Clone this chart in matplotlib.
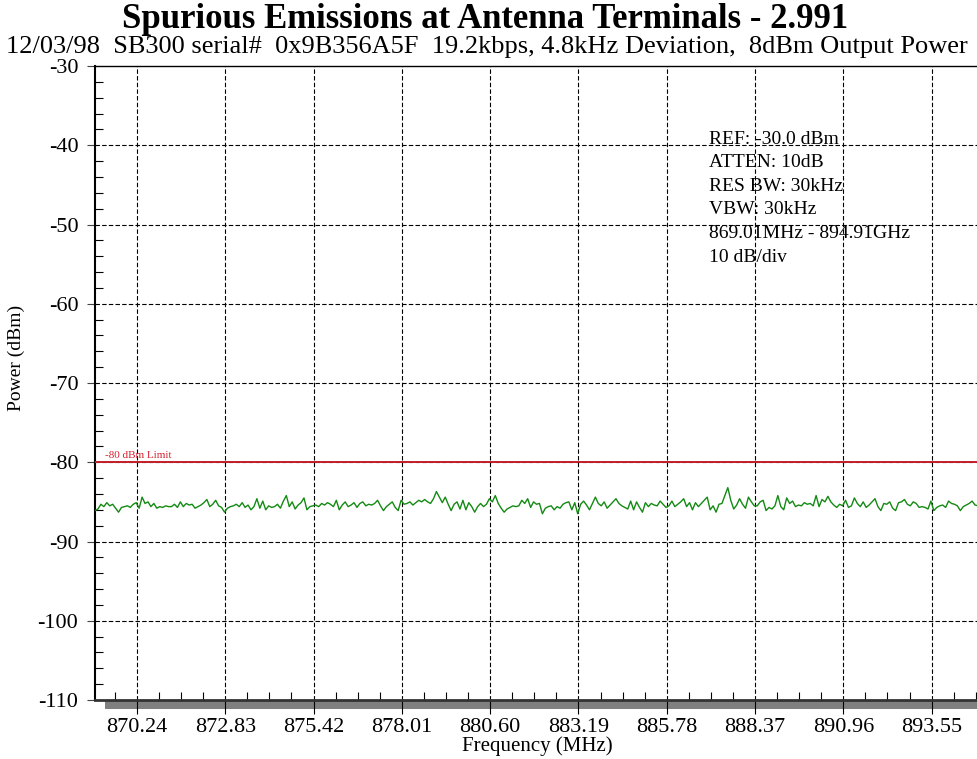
import numpy as np
import matplotlib
matplotlib.use("Agg")
import matplotlib.pyplot as plt
from matplotlib.patches import Rectangle
from matplotlib.ticker import FixedLocator, NullFormatter

plt.rcParams['font.family'] = ['Liberation Serif', 'DejaVu Serif']

title = "Spurious Emissions at Antenna Terminals - 2.991"
subtitle = "12/03/98  SB300 serial#  0x9B356A5F  19.2kbps, 4.8kHz Deviation,  8dBm Output Power"

start_mhz = 869.01
stop_mhz = 894.91
limit_dbm = -80
limit_label = "-80 dBm Limit"
xtick_vals = [870.24, 872.83, 875.42, 878.01, 880.60, 883.19, 885.78, 888.37, 890.96, 893.55]
ytick_vals = [-30, -40, -50, -60, -70, -80, -90, -100, -110]
info_lines = ["REF: -30.0 dBm", "ATTEN: 10dB", "RES BW: 30kHz", "VBW: 30kHz",
              "869.01MHz - 894.91GHz", "10 dB/div"]

trace_dbm = [
    -86.1, -85.9, -85.3, -85.6, -85.1, -85.5, -85.3, -85.8, -86.3, -85.7,
    -85.6, -85.5, -85.7, -85.3, -85.1, -85.8, -84.4, -85.2, -85.0, -85.6,
    -85.2, -85.8, -85.6, -85.7, -85.5, -85.6, -85.6, -85.3, -85.7, -85.0,
    -85.6, -85.2, -85.4, -85.3, -85.8, -85.6, -85.4, -85.1, -84.7, -85.6,
    -85.3, -84.8, -85.5, -85.7, -86.3, -85.8, -85.6, -85.5, -85.3, -85.6,
    -85.1, -85.7, -85.4, -86.0, -85.6, -84.6, -85.8, -84.9, -86.0, -85.5,
    -85.7, -85.6, -85.3, -85.8, -84.9, -84.2, -85.6, -85.0, -85.9, -85.4,
    -85.1, -84.5, -86.0, -85.6, -85.5, -85.4,
    -85.6, -85.2, -85.4, -85.1, -85.3, -85.6, -84.8, -86.0, -85.4, -85.0,
    -85.6, -85.4, -85.1, -85.7, -85.2, -85.0, -85.5, -85.3, -85.4, -85.2,
    -84.8, -85.5, -86.1, -85.6, -85.3, -85.0, -85.7, -86.1, -84.8, -85.3,
    -85.2, -85.0, -85.4, -85.1, -84.8, -85.0, -84.7, -85.0, -85.2, -84.6,
    -83.7, -84.4, -85.1, -84.4, -85.3, -86.1, -85.3, -85.0, -85.9, -84.8,
    -86.0, -85.1, -85.6, -86.3, -85.6, -85.2, -85.6, -85.3, -84.6, -85.0,
    -84.2, -85.2, -85.8, -86.3, -85.9, -85.7, -85.5, -85.6, -85.5, -84.8,
    -85.2, -84.6, -85.7, -85.0, -85.3, -85.2,
    -86.5, -85.8, -85.6, -85.5, -86.0, -85.6, -85.8, -85.3, -85.1, -85.0,
    -86.0, -85.1, -86.5, -85.3, -84.9, -85.4, -86.0, -85.2, -84.4, -85.2,
    -85.5, -85.0, -85.8, -85.4, -85.0, -84.6, -85.2, -85.5, -85.7, -85.9,
    -84.9, -86.0, -85.0, -85.7, -86.3, -85.1, -85.6, -85.2, -85.4, -85.5,
    -84.9, -85.3, -85.7, -85.5, -84.9, -85.6, -85.3, -85.0, -84.6, -85.6,
    -85.1, -86.0, -85.1, -85.6, -85.2, -84.8, -84.4, -86.0, -85.5, -86.3,
    -85.3, -85.2, -84.2, -83.2, -84.8, -85.9, -85.4, -84.6, -85.3, -85.8,
    -84.4, -85.0, -85.5, -85.5, -85.0, -84.8,
    -86.1, -85.7, -85.9, -85.5, -84.2, -85.6, -86.0, -84.5, -85.2, -84.9,
    -85.6, -85.4, -85.5, -85.1, -85.3, -85.2, -85.5, -84.2, -85.6, -84.7,
    -85.0, -84.3, -85.0, -85.4, -85.7, -85.3, -85.5, -84.8, -85.7, -85.5,
    -84.5, -85.2, -85.6, -85.0, -85.7, -85.4, -85.0, -84.6, -85.6, -86.1,
    -85.2, -85.3, -85.0, -85.8, -86.1, -85.1, -85.0, -84.7, -85.3, -85.5,
    -85.0, -85.2, -85.7, -85.6, -85.7, -85.9, -84.9, -86.1, -85.7, -85.5,
    -85.4, -85.7, -84.9, -85.2, -85.3, -85.5, -86.1, -85.6, -85.4, -85.2,
    -84.9, -85.4, -85.5,
]

W, H = 978, 759
fig = plt.figure(figsize=(W / 100, H / 100), dpi=100)
L, R, T, B = 95, 978, 66, 700
ax = fig.add_axes([L / W, 1 - B / H, (R - L) / W, (B - T) / H])

freqs = np.linspace(start_mhz, stop_mhz, len(trace_dbm))
ax.set_xlim(start_mhz, stop_mhz)
ax.set_ylim(-110, -30)

# grid
for xv in xtick_vals:
    ax.axvline(xv, color='black', lw=0.8, ls=(0, (4, 2)), zorder=1)
for yv in ytick_vals[1:-1]:
    ax.axhline(yv, color='black', lw=0.8, ls=(0, (4, 2)), zorder=1)

ax.axhline(limit_dbm, color='#c41e2a', lw=1.4, zorder=3)
ax.text(start_mhz + 0.3, limit_dbm + 0.25, limit_label, color='#d6202e',
        fontsize=8, ha='left', va='bottom', zorder=4)

ax.plot(freqs, trace_dbm, color='#138a13', lw=1.0, zorder=5)

# ticks
ax.xaxis.set_major_locator(FixedLocator(xtick_vals))
ax.set_xticklabels([f"{v:.2f}" for v in xtick_vals])
minor_x = [xtick_vals[0] + 0.6475 * k for k in range(-1, 40) if k % 4 != 0]
minor_x = [v for v in minor_x if start_mhz < v < stop_mhz]
ax.xaxis.set_minor_locator(FixedLocator(minor_x))
ax.xaxis.set_minor_formatter(NullFormatter())
ax.tick_params(axis='x', which='major', direction='out', length=10, width=0.8,
               color='black', labelsize=16, pad=3)
ax.tick_params(axis='x', which='minor', direction='in', length=6, width=0.8,
               color='black')

ax.yaxis.set_major_locator(FixedLocator(ytick_vals))
ax.set_yticklabels([str(v) for v in ytick_vals])
minor_y = [v for v in range(-108, -30, 2) if v % 10 != 0]
ax.yaxis.set_minor_locator(FixedLocator(minor_y))
ax.yaxis.set_minor_formatter(NullFormatter())
ax.tick_params(axis='y', which='major', direction='out', length=6, width=0.8,
               color='#444444', labelsize=16, pad=6)
ax.tick_params(axis='y', which='minor', direction='in', length=6, width=0.8,
               color='black')

for s in ['right']:
    ax.spines[s].set_visible(False)
ax.spines['top'].set_linewidth(1.0)
ax.spines['left'].set_linewidth(1.5)
ax.spines['bottom'].set_linewidth(2.0)
ax.spines['bottom'].set_color('#333333')

# gray band below axis
ax.add_patch(Rectangle((0.0113, -0.0145), 1.0, 0.0145, transform=ax.transAxes,
                       facecolor='#808080', edgecolor='none', clip_on=False, zorder=0))

# info text
for i, line in enumerate(info_lines):
    fig.text(709 / W, 1 - (139 + 23.6 * i) / H, line, fontsize=14, ha='left', va='center')

fig.text(485 / W, 1 - 20 / H, title, fontsize=25, fontweight='bold', ha='center', va='center')
fig.text(487 / W, 1 - 47 / H, subtitle, fontsize=19, ha='center', va='center')
fig.text(537 / W, 1 - 746 / H, "Frequency (MHz)", fontsize=15, ha='center', va='center')
fig.text(16 / W, 1 - 358 / H, "Power (dBm)", fontsize=14, ha='center', va='center',
         rotation=90)

fig.savefig("out.png", dpi=100)
